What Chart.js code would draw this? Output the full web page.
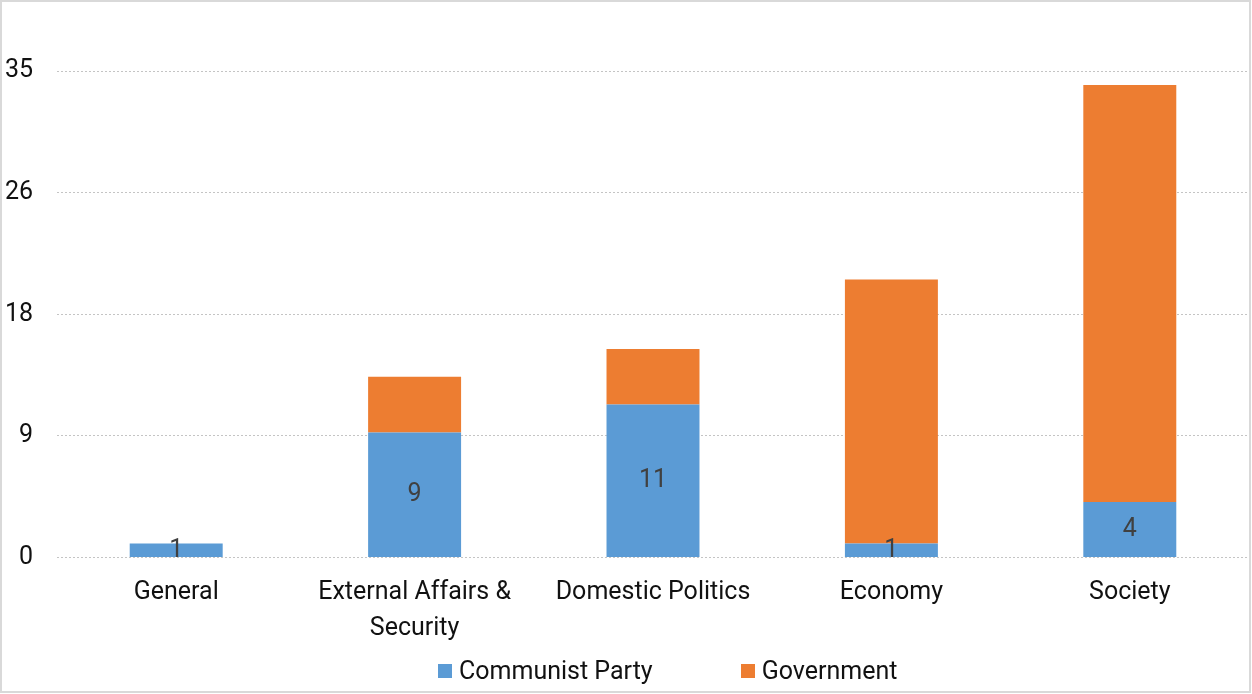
<!DOCTYPE html>
<html>
<head>
<meta charset="utf-8">
<script src="https://cdn.jsdelivr.net/npm/chart.js@4"></script>
<style>
  html, body { margin: 0; padding: 0; background: #fff; }
  #wrap {
    position: absolute; left: 0; top: 0;
    width: 1251px; height: 693px;
    box-sizing: border-box;
    border: 2px solid #d9d9d9;
  }
  #legend {
    position: absolute; left: 438px; top: 656px;
    display: flex; align-items: center;
    font: 25px Roboto, "Liberation Sans", sans-serif; color: #111;
    white-space: nowrap;
  }
  #legend .item { display: flex; align-items: center; margin-right: 88px; }
  #legend .box { width: 14px; height: 14px; margin-right: 7px; }
</style>
</head>
<body>
<div id="wrap"><canvas id="chart" width="1247" height="689"></canvas></div>
<div id="legend"></div>
<script>
// categories and series
const categories = ['General', ['External Affairs &', 'Security'], 'Domestic Politics', 'Economy', 'Society'];
const communistParty = [1, 9, 11, 1, 4];
const government = [0, 4, 4, 19, 30];
const yTicks = [0, 8.75, 17.5, 26.25, 35];

const FONT = 'Roboto, "Liberation Sans", sans-serif';

// value labels in the middle of the blue bars
const barLabels = {
    id: 'barLabels',
    afterDatasetsDraw(chart) {
        const ctx = chart.ctx;
        const meta = chart.getDatasetMeta(0);
        ctx.save();
        ctx.font = '25px ' + FONT;
        ctx.fillStyle = '#404040';
        ctx.textAlign = 'center';
        ctx.textBaseline = 'middle';
        meta.data.forEach((bar, i) => {
            const v = communistParty[i];
            if (!v) return;
            ctx.fillText(String(v), bar.x, (bar.y + bar.base) / 2);
        });
        ctx.restore();
    }
};

const chart = new Chart(document.getElementById('chart'), {
    type: 'bar',
    data: {
        labels: categories,
        datasets: [
            {
                label: 'Communist Party',
                data: communistParty,
                backgroundColor: '#5B9BD5',
                barPercentage: 0.39,
                categoryPercentage: 1
            },
            {
                label: 'Government',
                data: government,
                backgroundColor: '#ED7D31',
                barPercentage: 0.39,
                categoryPercentage: 1
            }
        ]
    },
    options: {
        responsive: false,
        animation: false,
        layout: { padding: { top: 69, left: 3, right: 0, bottom: 35 } },
        plugins: {
            legend: { display: false },
            tooltip: { enabled: false }
        },
        scales: {
            x: {
                stacked: true,
                grid: { display: false },
                border: { display: false },
                afterFit(scale) {
                    scale.paddingLeft = 0;
                    scale.paddingRight = 0;
                },
                ticks: {
                    color: '#111',
                    padding: 9,
                    maxRotation: 0,
                    minRotation: 0,
                    autoSkip: false,
                    font: { family: FONT, size: 25, lineHeight: 1.45 }
                }
            },
            y: {
                stacked: true,
                min: 0,
                max: 35,
                afterBuildTicks(axis) {
                    axis.ticks = yTicks.map(v => ({ value: v }));
                },
                afterFit(scale) {
                    scale.width = 52;
                },
                grid: {
                    color: '#c4c4c4',
                    drawTicks: false
                },
                border: { display: false, dash: [2, 2] },
                ticks: {
                    color: '#111',
                    padding: 24,
                    font: { family: FONT, size: 25 },
                    callback: v => Math.round(v)
                }
            }
        }
    },
    plugins: [barLabels]
});

// legend built from the chart's datasets
const legendEl = document.getElementById('legend');
chart.data.datasets.forEach(ds => {
    const item = document.createElement('div');
    item.className = 'item';
    const box = document.createElement('span');
    box.className = 'box';
    box.style.background = ds.backgroundColor;
    const txt = document.createElement('span');
    txt.textContent = ds.label;
    item.appendChild(box);
    item.appendChild(txt);
    legendEl.appendChild(item);
});
</script>
</body>
</html>
